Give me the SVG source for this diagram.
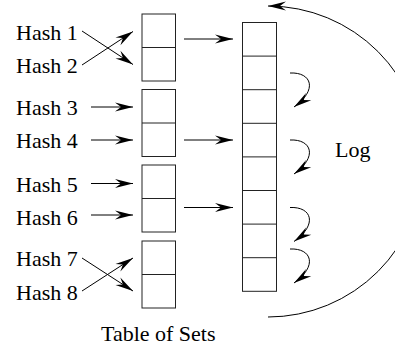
<svg xmlns="http://www.w3.org/2000/svg" width="395" height="349" viewBox="0 0 395 349">
<style>
.box{fill:none;stroke:#222;stroke-width:1}
.c{fill:none;stroke:#000;stroke-width:1;marker-end:url(#ah)}
.t{font-family:"Liberation Serif","DejaVu Serif",serif;font-size:22px;fill:#000}
</style>
<defs>
<marker id="ah" markerUnits="userSpaceOnUse" viewBox="-19 -6 20 12" refX="0" refY="0" markerWidth="20" markerHeight="12" orient="auto" overflow="visible">
<path d="M0,0 L-18,-4.5 L-12,0 L-18,4.5 Z" fill="#000"/>
</marker>
</defs>
<rect width="395" height="349" fill="#fff"/>
<g id="labels">
<text class="t" x="16" y="40">Hash 1</text>
<text class="t" x="16" y="72.5">Hash 2</text>
<text class="t" x="16" y="114.5">Hash 3</text>
<text class="t" x="16" y="147.5">Hash 4</text>
<text class="t" x="16" y="191.5">Hash 5</text>
<text class="t" x="16" y="224.5">Hash 6</text>
<text class="t" x="16" y="266">Hash 7</text>
<text class="t" x="16" y="299.5">Hash 8</text>
</g>
<g id="set1"><rect class="box" x="142" y="14" width="33.5" height="67"/><line class="box" x1="142" y1="47.5" x2="175.5" y2="47.5"/></g>
<g id="set2"><rect class="box" x="142" y="89.5" width="33.5" height="67"/><line class="box" x1="142" y1="123" x2="175.5" y2="123"/></g>
<g id="set3"><rect class="box" x="142" y="165" width="33.5" height="67"/><line class="box" x1="142" y1="198.5" x2="175.5" y2="198.5"/></g>
<g id="set4"><rect class="box" x="142" y="241" width="33.5" height="67"/><line class="box" x1="142" y1="274.5" x2="175.5" y2="274.5"/></g>
<g id="log">
<rect class="box" x="242.5" y="22.5" width="34" height="268.8"/>
<line class="box" x1="242.5" y1="56.1" x2="276.5" y2="56.1"/>
<line class="box" x1="242.5" y1="89.7" x2="276.5" y2="89.7"/>
<line class="box" x1="242.5" y1="123.3" x2="276.5" y2="123.3"/>
<line class="box" x1="242.5" y1="156.9" x2="276.5" y2="156.9"/>
<line class="box" x1="242.5" y1="190.5" x2="276.5" y2="190.5"/>
<line class="box" x1="242.5" y1="224.1" x2="276.5" y2="224.1"/>
<line class="box" x1="242.5" y1="257.7" x2="276.5" y2="257.7"/>
</g>
<g id="log-label"><text class="t" x="335" y="157">Log</text></g>
<g id="caption"><text class="t" x="101" y="341">Table of Sets</text></g>
<g id="connectors">
<path class="c" d="M82,31 L133,64.5"/>
<path class="c" d="M82,65 L133,31.5"/>
<path class="c" d="M91,107 L133,107"/>
<path class="c" d="M91,140 L133,140"/>
<path class="c" d="M91,183.5 L133,183.5"/>
<path class="c" d="M91,215 L133,215"/>
<path class="c" d="M82,258 L133,291"/>
<path class="c" d="M82,291 L133,258"/>
<path class="c" d="M184,39 L233,39"/>
<path class="c" d="M184,140 L233,140"/>
<path class="c" d="M184,207.5 L233,207.5"/>
<path class="c" d="M290,73 C312,72 318,90 294,107"/>
<path class="c" d="M290,140 C312,139 318,157 294,174"/>
<path class="c" d="M290,207.5 C312,206.5 318,224.5 294,241.5"/>
<path class="c" d="M290,249 C312,248 318,266 294,283"/>
<path class="c" d="M268,317 A155.5,155.5 0 0 0 268,6"/>
</g>
</svg>
